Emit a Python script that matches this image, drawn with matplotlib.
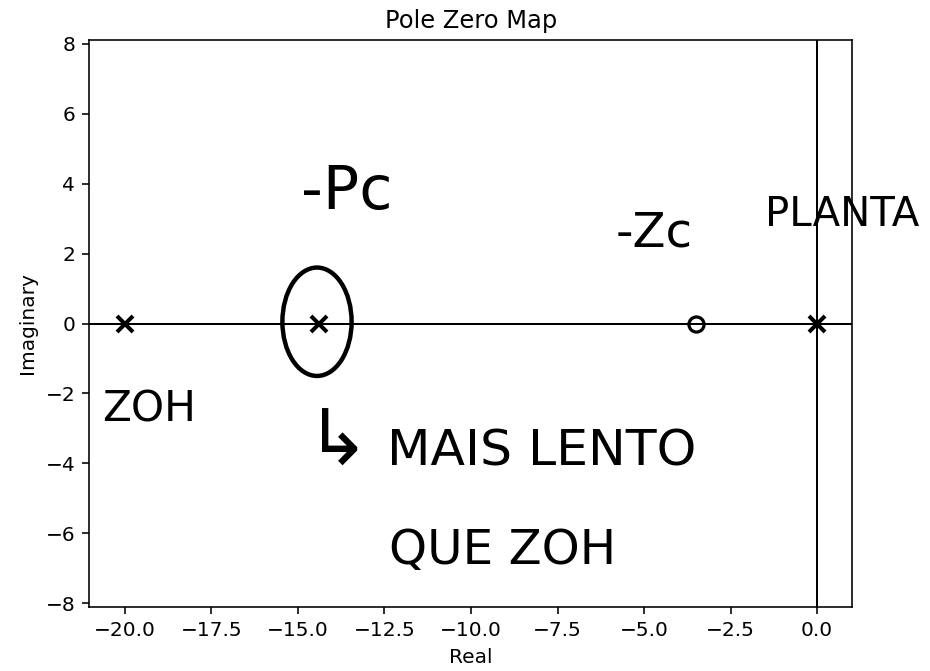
import matplotlib
matplotlib.use("Agg")
import matplotlib.pyplot as plt
from matplotlib.patches import Ellipse
from matplotlib import font_manager

# System poles and zeros
pole_real = [-20.0, -14.4, 0.0]
pole_imag = [0.0, 0.0, 0.0]
zero_real = [-3.5]
zero_imag = [0.0]

# Hand-written notes: (text, x, y, fontsize)
notes = [
    ("-Pc", -13.6, 3.75, 30),
    ("-Zc", -4.7, 2.6, 24),
    ("PLANTA", 0.72, 3.1, 20),
    ("ZOH", -19.3, -2.45, 21),
    ("↳", -13.85, -3.45, 38),
    ("MAIS LENTO", -7.95, -3.65, 25),
    ("QUE ZOH", -9.1, -6.5, 24),
]

available = {f.name for f in font_manager.fontManager.ttflist}
hand_family = "DejaVu Sans"
for cand in ["DejaVu Sans Condensed", "Liberation Sans Narrow"]:
    if cand in available:
        hand_family = cand
        break

dpi = 145
fig = plt.figure(figsize=(930 / dpi, 671 / dpi), dpi=dpi)
ax = fig.add_axes([89.3 / 930, 1 - 606.7 / 671, (852.0 - 89.3) / 930, (606.7 - 40.3) / 671])

ax.axhline(0, color="k", lw=1)
ax.axvline(0, color="k", lw=1)

ax.plot(pole_real, pole_imag, "x", color="k", ms=7.5, mew=2)
ax.plot(zero_real, zero_imag, "o", color="k", ms=7.5, mew=1.6, mfc="none")

ax.set_xlim(-21.03, 1.01)
ax.set_ylim(-8.1, 8.1)
ax.set_xticks([-20, -17.5, -15, -12.5, -10, -7.5, -5, -2.5, 0])
ax.set_yticks([-8, -6, -4, -2, 0, 2, 4, 6, 8])

ax.set_title("Pole Zero Map")
ax.set_xlabel("Real")
ax.set_ylabel("Imaginary")

# Circle drawn around the compensator pole
ax.add_patch(Ellipse((pole_real[1] - 0.05, 0.05), 2.0, 3.1, fill=False,
                     ec="k", lw=2.2, clip_on=False))

for txt, x, y, fs in notes:
    ax.text(x, y, txt, fontsize=fs, family=[hand_family, "DejaVu Sans"],
            ha="center", va="center", color="k", clip_on=False)

fig.savefig("out.png", dpi=dpi)
